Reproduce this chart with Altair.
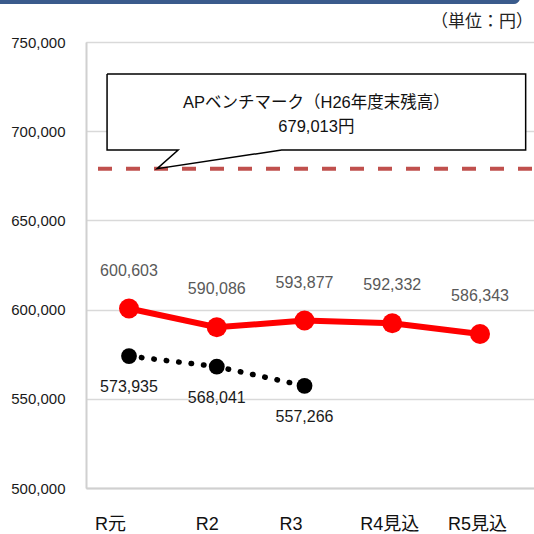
import json
import altair as alt
import pandas as pd

# Fiscal years on the x axis
categories = ["R元", "R2", "R3", "R4見込", "R5見込"]
# Plan / outlook balance per resident (yen)
plan_values = [600603, 590086, 593877, 592332, 586343]
# Actual results (yen)
actual_values = [573935, 568041, 557266]
# Benchmark: balance at end of FY H26
benchmark_value = 679013
benchmark_text = ["APベンチマーク（H26年度末残高）", "679,013円"]
unit_text = "（単位：円）"
y_ticks = [500000, 550000, 600000, 650000, 700000, 750000]
# Horizontal nudge of each category label (px)
label_shift = [-19, -10, -14, -3, -3]

FONT = "'Liberation Sans', 'Noto Sans CJK JP', sans-serif"
X_DOMAIN = [-0.49, 4.615]
Y_DOMAIN = [500000, 750000]

plan_df = pd.DataFrame({"i": range(len(plan_values)), "cat": categories, "v": plan_values})
actual_df = pd.DataFrame({"i": range(len(actual_values)), "cat": categories[:len(actual_values)], "v": actual_values})

label_expr = json.dumps(categories, ensure_ascii=False) + "[datum.value]"
shift_expr = json.dumps(label_shift) + "[datum.value]"

x_enc = alt.X(
    "i:Q",
    scale=alt.Scale(domain=X_DOMAIN, nice=False, zero=False),
    axis=alt.Axis(
        values=list(range(len(categories))), labelExpr=label_expr, title=None,
        grid=False, ticks=False, labelFontSize=18, labelColor="#111111",
        labelPadding=27, labelBaseline="top", labelFont=FONT,
        labelOffset={"expr": shift_expr},
        domainColor="#d0d0d0", domainWidth=2,
    ),
)
y_enc = alt.Y(
    "v:Q",
    scale=alt.Scale(domain=Y_DOMAIN, nice=False, zero=False),
    axis=alt.Axis(
        values=y_ticks, format=",d", title=None, ticks=False,
        labelFontSize=15, labelColor="#1a1a1a", labelPadding=21, labelFont=FONT,
        gridColor="#d9d9d9", gridWidth=1.5, domainColor="#d0d0d0", domainWidth=2,
    ),
)

# Benchmark dashed line across the plot
bench_df = pd.DataFrame({"x": [X_DOMAIN[0]], "x2": [X_DOMAIN[1]], "v": [benchmark_value]})
bench = alt.Chart(bench_df).mark_rule(
    color="#c0504d", strokeWidth=4, strokeDash=[14, 14], strokeDashOffset=16
).encode(x=alt.X("x:Q"), x2="x2:Q", y=alt.Y("v:Q"))

# Callout box anchored to the benchmark line
box_left, box_right = -0.25, 4.52
box_top, box_bottom = 732063, 689462
ptr_left, ptr_right, ptr_tip = 0.56, 1.74, 0.32
box_df = pd.DataFrame({"x": [box_left], "x2": [box_right], "v": [box_bottom], "v2": [box_top]})
box_fill = alt.Chart(box_df).mark_rect(color="white").encode(
    x=alt.X("x:Q"), x2="x2:Q", y=alt.Y("v:Q"), y2="v2:Q"
)
outline_df = pd.DataFrame({
    "o": range(8),
    "x": [box_left, box_right, box_right, ptr_right, ptr_tip, ptr_left, box_left, box_left],
    "v": [box_top, box_top, box_bottom, box_bottom, benchmark_value, box_bottom, box_bottom, box_top],
})
outline = alt.Chart(outline_df).mark_line(color="black", strokeWidth=1.5, strokeJoin="miter").encode(
    x=alt.X("x:Q"), y=alt.Y("v:Q"), order="o:Q"
)
text_df = pd.DataFrame({
    "x": [(box_left + box_right) / 2] * 2,
    "v": [715807, 702354],
    "t": benchmark_text,
})
callout_text = alt.Chart(text_df).mark_text(
    fontSize=16.5, font=FONT, color="#111111", baseline="middle"
).encode(x=alt.X("x:Q"), y=alt.Y("v:Q"), text="t:N")

# Plan / outlook series (red)
plan_base = alt.Chart(plan_df).encode(x=x_enc, y=y_enc)
plan_line = plan_base.mark_line(color="#ff0000", strokeWidth=6)
plan_pts = plan_base.mark_point(filled=True, color="#ff0000", size=400, opacity=1)
plan_lbl = plan_base.mark_text(
    dy=-38, fontSize=16, font=FONT, color="#595959"
).encode(text=alt.Text("v:Q", format=",d"))

# Actual series (black, dotted)
act_base = alt.Chart(actual_df).encode(x=alt.X("i:Q"), y=alt.Y("v:Q"))
act_line = act_base.mark_line(
    color="black", strokeWidth=5.5, strokeDash=[0.5, 12], strokeCap="round"
)
act_pts = act_base.mark_point(filled=True, color="black", size=250, opacity=1)
act_lbl = act_base.mark_text(
    dy=31, fontSize=16, font=FONT, color="#1a1a1a"
).encode(text=alt.Text("v:Q", format=",d"))

# Header strip and unit note above the plot
one = pd.DataFrame({"k": [0]})
banner = alt.Chart(one).mark_rect(color="#3a5b8c", cornerRadiusBottomRight=6).encode(
    x=alt.value(-90), x2=alt.value(434), y=alt.value(-50), y2=alt.value(-38)
)
unit = alt.Chart(one).mark_text(
    text=unit_text, fontSize=17, font=FONT, color="#222222", align="right", baseline="middle"
).encode(x=alt.value(447), y=alt.value(-20))

chart = alt.layer(
    banner, unit, bench, box_fill, outline, callout_text,
    plan_line, plan_pts, plan_lbl, act_line, act_pts, act_lbl,
).properties(
    width=448, height=446,
    padding={"left": 86, "top": 42, "right": 0, "bottom": 46},
    autosize=alt.AutoSizeParams(type="none"),
).configure_view(stroke=None).configure(background="white")

chart.save("out.html", embed_options={"renderer": "svg", "actions": False})
